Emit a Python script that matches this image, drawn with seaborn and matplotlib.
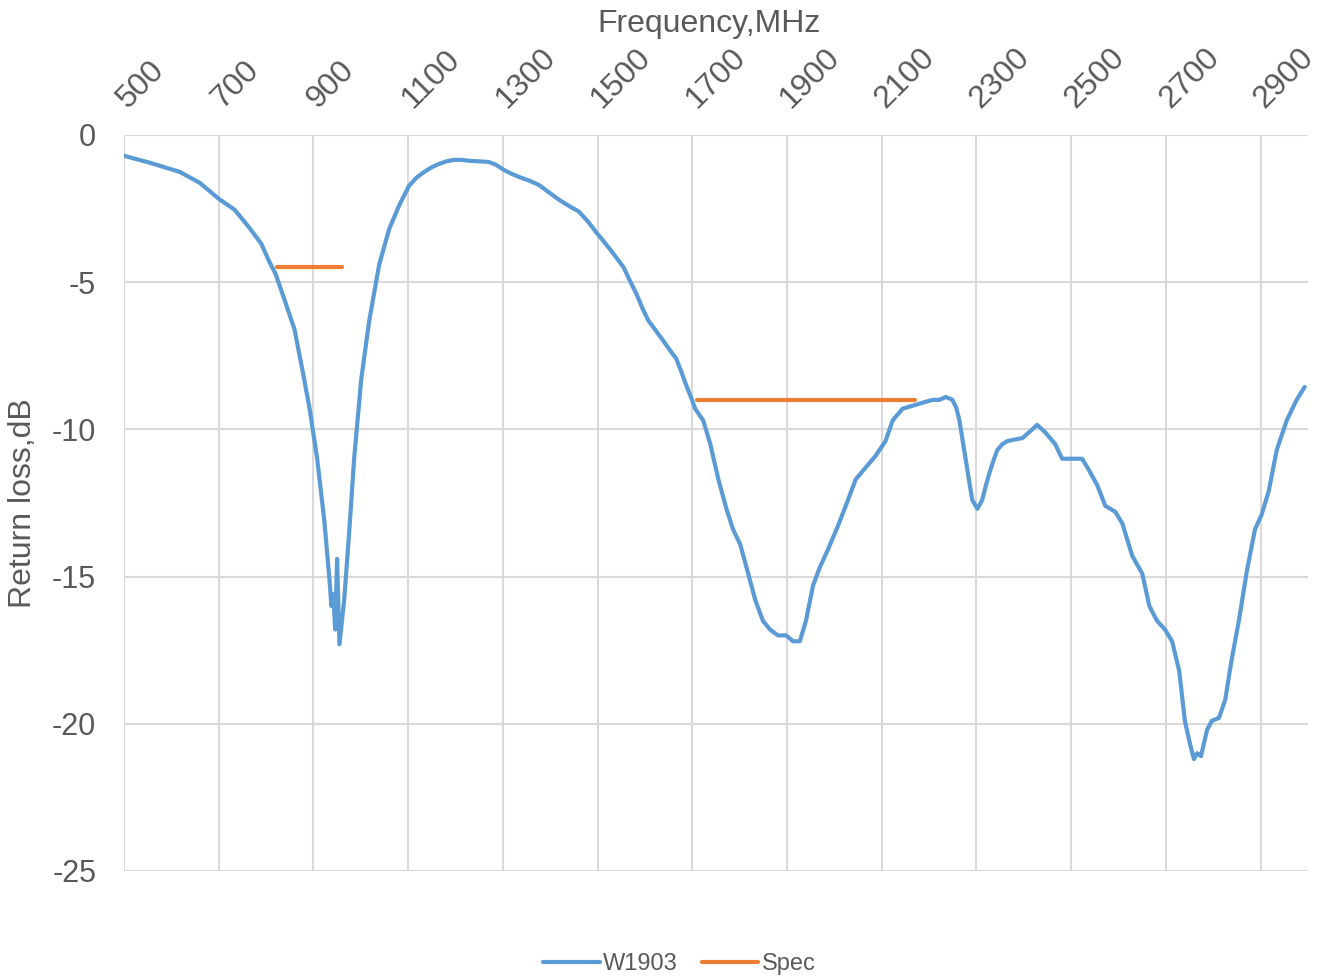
import pandas as pd
import matplotlib.pyplot as plt
import matplotlib.transforms as mtransforms
import seaborn as sns

sns.set_theme(style="white")
plt.rcParams['font.family'] = ['Liberation Sans', 'DejaVu Sans']
plt.rcParams['axes.unicode_minus'] = False

# W1903 return loss
freq = [500, 555, 618, 660, 700, 734, 765, 790, 807, 820, 839, 860, 877, 892, 908,
        923, 934, 938, 942, 946, 950, 955, 965, 976, 986, 1001, 1018, 1039, 1060, 1081,
        1102, 1118, 1134, 1150, 1165, 1181, 1197, 1212, 1228, 1250, 1270, 1286, 1302,
        1318, 1334, 1355, 1376, 1397, 1418, 1440, 1460, 1480, 1498, 1512, 1527, 1541,
        1555, 1568, 1582, 1595, 1607, 1623, 1639, 1652, 1666, 1677, 1687, 1697, 1706,
        1723, 1738, 1755, 1772, 1786, 1801,
        1818, 1833, 1849, 1864, 1881, 1898, 1913, 1927, 1940, 1955, 1969, 1986, 2007,
        2024, 2045, 2066, 2087, 2108, 2123, 2144, 2165, 2186, 2207, 2222, 2235, 2249, 2257,
        2264, 2277, 2291, 2302, 2312, 2320, 2327, 2335, 2344, 2355, 2365, 2380, 2397, 2418,
        2428, 2445, 2466, 2481,
        2502, 2523, 2538, 2555, 2572, 2593, 2608, 2629, 2650, 2665, 2681, 2698, 2713,
        2728, 2740, 2751, 2759, 2766, 2774, 2787, 2797, 2812, 2825, 2839, 2854, 2871,
        2888, 2902, 2917, 2934, 2955, 2976, 2993]
loss = [-0.71, -0.95, -1.26, -1.63, -2.17, -2.55, -3.16, -3.7, -4.31, -4.72, -5.6, -6.6,
        -8.0, -9.3, -11.0, -13.1, -15.1, -16.0, -15.6, -16.8, -14.4, -17.3, -15.8, -13.4,
        -11.0, -8.3, -6.3, -4.4, -3.2, -2.4,
        -1.73, -1.45, -1.26, -1.1, -0.99, -0.9, -0.85, -0.85, -0.88, -0.9, -0.92, -1.02,
        -1.19, -1.32, -1.43, -1.55, -1.7, -1.95, -2.2, -2.42, -2.6, -2.95, -3.33, -3.6,
        -3.9, -4.2, -4.5, -4.95, -5.4, -5.9, -6.3, -6.65, -7.0, -7.3, -7.6, -8.05, -8.5,
        -8.9, -9.3, -9.7, -10.5, -11.7, -12.7, -13.4, -13.9, -14.9, -15.8, -16.5, -16.8,
        -17.0, -17.0, -17.2, -17.2, -16.5, -15.3, -14.7, -14.1, -13.3, -12.6, -11.7, -11.3,
        -10.9, -10.4, -9.7, -9.3, -9.2, -9.1, -9.0, -9.0, -8.9, -9.0, -9.25, -9.7, -11.0,
        -12.4, -12.7, -12.4, -11.9, -11.5, -11.1, -10.7, -10.5, -10.4, -10.35, -10.3,
        -10.0, -9.85, -10.1, -10.5, -11.0, -11.0, -11.0, -11.4,
        -11.9, -12.6, -12.8, -13.2, -14.3, -14.9, -16.0, -16.5, -16.8, -17.2, -18.2, -19.9,
        -20.7, -21.2, -21.0, -21.1, -20.2, -19.9, -19.8, -19.2, -17.8, -16.5, -14.8, -13.4,
        -12.9, -12.1, -10.7, -9.7, -9.0, -8.56]

# Spec limits (two bands)
spec_freq = [824, 960, 1710, 2170]
spec_loss = [-4.5, -4.5, -9.0, -9.0]
spec_seg = [1, 1, 2, 2]

df = pd.concat([
    pd.DataFrame({"freq": freq, "loss": loss, "series": "W1903", "seg": 0}),
    pd.DataFrame({"freq": spec_freq, "loss": spec_loss, "series": "Spec", "seg": spec_seg}),
])

txt = "#595959"
fig = plt.figure(figsize=(13.27, 9.77), dpi=100)
ax = fig.add_axes([0.0934, 0.1085, 0.8923, 0.7535])

sns.lineplot(data=df, x="freq", y="loss", hue="series", units="seg", estimator=None,
             palette={"W1903": "#5B9BD5", "Spec": "#ED7D31"}, linewidth=3,
             sort=False, ax=ax)

ax.set_xlim(500, 3000)
ax.set_ylim(-25, 0)
ax.set_xticks(range(500, 3000, 200))
ax.set_yticks(range(-25, 1, 5))
ax.xaxis.tick_top()
ax.xaxis.set_label_position("top")
ax.tick_params(axis="x", length=0, pad=15, labelsize=23, labelcolor=txt, labelrotation=45)
shift = mtransforms.ScaledTranslation(9 / 100, 0, fig.dpi_scale_trans)
for lab in ax.get_xticklabels():
    lab.set_ha("left")
    lab.set_va("bottom")
    lab.set_rotation_mode("anchor")
    lab.set_transform(lab.get_transform() + shift)
ax.tick_params(axis="y", length=0, pad=20, labelsize=22, labelcolor=txt)
ax.grid(True, color="#d9d9d9", linewidth=1.5)
for s in ax.spines.values():
    s.set_visible(False)

ax.set_xlabel("Frequency,MHz", fontsize=23, color=txt)
ax.set_ylabel("Return loss,dB", fontsize=23, color=txt)
ax.xaxis.set_label_coords(0.494, 1.14)
ax.yaxis.set_label_coords(-0.073, 0.5)

ax.legend(loc="lower center", bbox_to_anchor=(0.512, -0.02), bbox_transform=fig.transFigure,
          ncol=2, frameon=False, fontsize=17, labelcolor=txt, handlelength=2.4,
          handletextpad=0.15, columnspacing=1.0)

plt.savefig("out.png", dpi=100)
